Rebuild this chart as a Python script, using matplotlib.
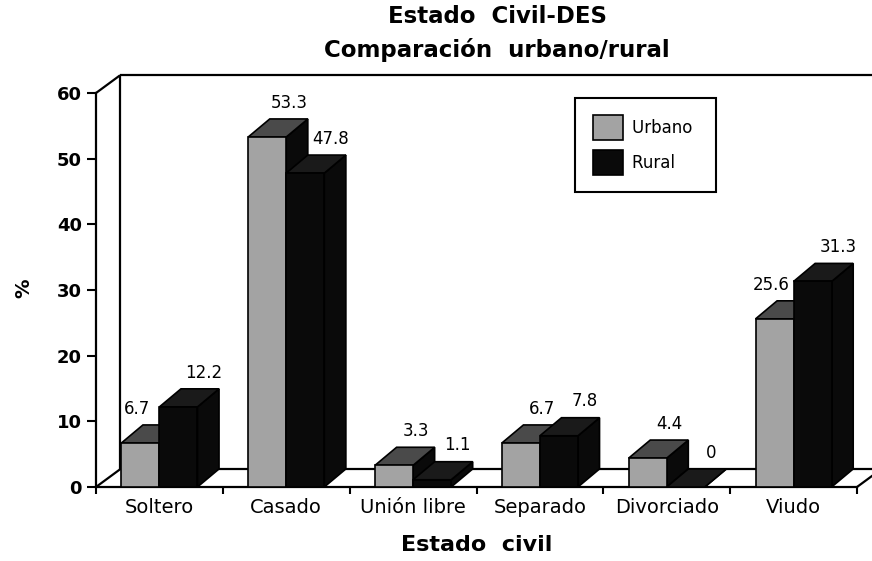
import numpy as np
import matplotlib.pyplot as plt
from matplotlib.patches import Polygon, Patch

# data
categories = ["Soltero", "Casado", "Unión libre", "Separado", "Divorciado", "Viudo"]
urbano = [6.7, 53.3, 3.3, 6.7, 4.4, 25.6]
rural = [12.2, 47.8, 1.1, 7.8, 0, 31.3]
y_ticks = [0, 10, 20, 30, 40, 50, 60]

# look of the fake 3d bars
bar_w = 0.30
dx, dy = 0.17, 2.75          # bar depth
wx, wy = 0.19, 2.7           # wall / floor depth
gray_front = "#a3a3a3"
gray_top = "#4a4a4a"
black = "#0a0a0a"

W, H = 872, 561
fig = plt.figure(figsize=(W / 100, H / 100), dpi=100)
ax = fig.add_axes([96 / W, (H - 487) / H, 761 / W, 394 / H])
ax.set_xlim(0, 6)
ax.set_ylim(0, 60)


def line(xs, ys):
    ax.plot(xs, ys, color="black", lw=1.6, clip_on=False, zorder=1,
            solid_capstyle="butt")


# back wall and floor
line([0, wx], [60, 60 + wy])
line([wx, wx], [wy, 60 + wy])
line([wx, 6 + wx + 0.3], [60 + wy, 60 + wy])
line([0, wx], [0, wy])
line([wx, 6 + wx], [wy, wy])
line([6, 6 + wx], [0, wy])


def bar3d(x0, h, front, top, side, shift=0.0):
    x1 = x0 + bar_w
    kw = dict(edgecolor="black", lw=1.2, clip_on=False, zorder=3,
              joinstyle="miter")
    ax.add_patch(Polygon([(x1, 0), (x1 + dx, dy), (x1 + dx, h + dy), (x1, h)],
                         facecolor=side, **kw))
    ax.add_patch(Polygon([(x0, h), (x1, h), (x1 + dx, h + dy), (x0 + dx, h + dy)],
                         facecolor=top, **kw))
    if h > 0:
        ax.add_patch(Polygon([(x0, 0), (x1, 0), (x1, h), (x0, h)],
                             facecolor=front, **kw))
    ax.text(x0 + bar_w / 2 + dx + shift, h + dy + 1.1, f"{h:g}", ha="center",
            va="bottom", fontsize=12, zorder=5)


centers = np.arange(len(categories)) + 0.5
for c, u, r in zip(centers, urbano, rural):
    # label of the front bar moves left when the rural bar is clearly taller
    shift = -0.2 if r - u > 3 else 0.0
    bar3d(c - bar_w, u, gray_front, gray_top, black, shift)
    bar3d(c, r, black, "#1a1a1a", black, 0.03)

# axes and ticks
for s in ["top", "right"]:
    ax.spines[s].set_visible(False)
ax.spines["left"].set_linewidth(1.6)
ax.spines["bottom"].set_linewidth(1.6)
ax.spines["left"].set_zorder(2)
ax.set_yticks(y_ticks)
ax.set_yticklabels([str(t) for t in y_ticks], fontsize=13, fontweight="bold")
ax.tick_params(axis="y", direction="out", length=6.5, width=1.5, pad=3.5)
ax.set_xticks(np.arange(len(categories) + 1))
ax.set_xticklabels([])
ax.tick_params(axis="x", which="major", direction="out", length=5, width=1.5)
ax.set_xticks(centers, minor=True)
ax.set_xticklabels(categories, minor=True, fontsize=14)
ax.tick_params(axis="x", which="minor", length=0, pad=8)

# titles
fig.text(497 / W, 1 - 5 / H, "Estado  Civil-DES\nComparación  urbano/rural",
         ha="center", va="top", fontsize=16.5, fontweight="bold", linespacing=1.5)
fig.text(24 / W, 1 - 288 / H, "%", rotation=90, ha="center", va="center",
         fontsize=14, fontweight="bold")
fig.text(477 / W, 1 - 545 / H, "Estado  civil", ha="center", va="center",
         fontsize=16, fontweight="bold")

# legend
handles = [Patch(facecolor=gray_front, edgecolor="black", lw=1.2),
           Patch(facecolor=black, edgecolor="black", lw=1.2)]
leg = ax.legend(handles, ["Urbano", "Rural"], loc="upper left",
                bbox_to_anchor=(575 / W, 1 - 98 / H),
                bbox_transform=fig.transFigure, fancybox=False,
                edgecolor="black", framealpha=1, fontsize=12,
                handlelength=1.85, handleheight=1.9, borderpad=1.05,
                labelspacing=0.6, handletextpad=0.55, borderaxespad=0)
leg.get_frame().set_linewidth(1.5)
leg.set_zorder(6)
# widen the box a little on the right like the original
for t in leg.get_texts():
    t.set_text(t.get_text() + " ")

fig.savefig("out.png", dpi=100)
